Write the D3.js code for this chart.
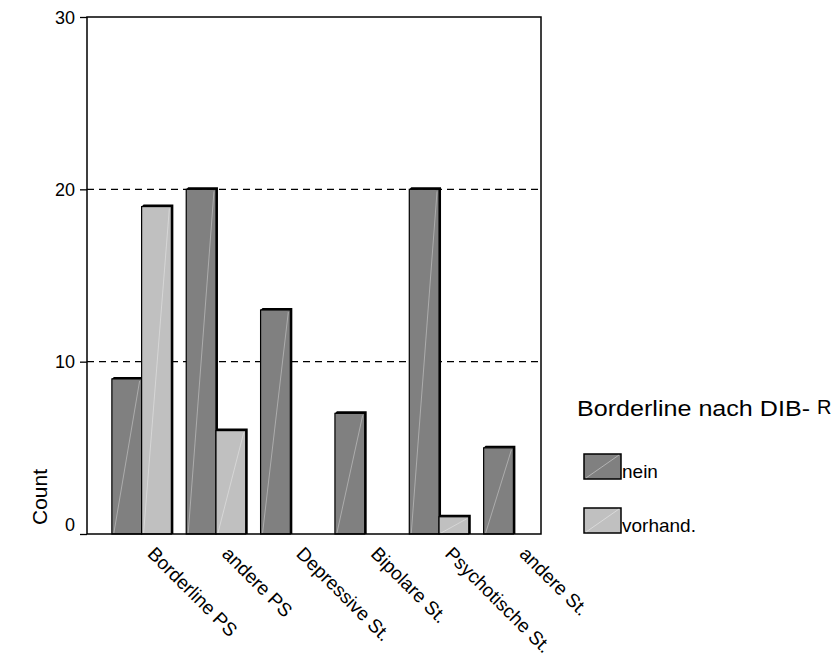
<!DOCTYPE html>
<html>
<head>
<meta charset="utf-8">
<script src="https://cdn.jsdelivr.net/npm/d3@7"></script>
<style>
  body { margin: 0; background: #fff; }
  text { font-family: "Liberation Sans", Arial, sans-serif; fill: #000; }
</style>
</head>
<body>
<div id="chart"></div>
<script>
// categories and series
const categories = ["Borderline PS", "andere PS", "Depressive St.", "Bipolare St.", "Psychotische St.", "andere St."];
const groups = ["nein", "vorhand."];
const neinValues = [9, 20, 13, 7, 20, 5];
const vorhandValues = [19, 6, 0, 0, 1, 0];
const yTicks = [0, 10, 20, 30];
const legendTitle = "Borderline nach DIB-";
const legendSuffix = "R";

const colors = { "nein": "#808080", "vorhand.": "#c0c0c0" };

const W = 838, H = 655;
const frame = { left: 87, right: 541, top: 17, bottom: 534 };

const svg = d3.select("#chart").append("svg")
    .attr("width", W)
    .attr("height", H);

// scales
const yScale = d3.scaleLinear().domain([0, 30]).range([frame.bottom, frame.top]);
const xScale = d3.scaleBand().domain(categories).range([97, 558]).padding(0.2);
const xSub = d3.scaleBand().domain(groups).range([0, xScale.bandwidth()]);

// gridlines (dashed)
svg.append("g")
  .selectAll("line")
  .data(yTicks.filter(d => d > 0 && d < 30))
  .join("line")
    .attr("x1", frame.left)
    .attr("x2", frame.right)
    .attr("y1", d => yScale(d))
    .attr("y2", d => yScale(d))
    .attr("stroke", "#000")
    .attr("stroke-width", 1.4)
    .attr("stroke-dasharray", "7,5");

// bars
const rows = [];
categories.forEach((c, i) => {
  rows.push({ cat: c, grp: "nein", value: neinValues[i] });
  rows.push({ cat: c, grp: "vorhand.", value: vorhandValues[i] });
});

const bars = svg.append("g")
  .selectAll("g")
  .data(rows.filter(d => d.value > 0))
  .join("g")
    .attr("transform", d => "translate(" + (xScale(d.cat) + xSub(d.grp)) + ",0)");

const bw = xSub.bandwidth();
const depth = 2;

bars.append("rect")
    .attr("x", 0)
    .attr("y", d => yScale(d.value))
    .attr("width", bw)
    .attr("height", d => frame.bottom - yScale(d.value))
    .attr("fill", d => colors[d.grp])
    .attr("stroke", "#000")
    .attr("stroke-width", 1.2);

// faint diagonal highlight
bars.append("line")
    .attr("x1", 2)
    .attr("y1", frame.bottom - 1)
    .attr("x2", bw - 2)
    .attr("y2", d => yScale(d.value) + 2)
    .attr("stroke", "#fff")
    .attr("stroke-opacity", 0.35)
    .attr("stroke-width", 1);

// 3d top and right edges
bars.append("path")
    .attr("d", d => {
      const y0 = yScale(d.value);
      return "M0," + y0 + " L" + depth + "," + (y0 - depth) + " L" + (bw + depth) + "," + (y0 - depth) +
             " L" + (bw + depth) + "," + (frame.bottom) + " L" + bw + "," + frame.bottom + " L" + bw + "," + y0 + " Z";
    })
    .attr("fill", "#000");

// frame
svg.append("rect")
    .attr("x", frame.left)
    .attr("y", frame.top)
    .attr("width", frame.right - frame.left)
    .attr("height", frame.bottom - frame.top)
    .attr("fill", "none")
    .attr("stroke", "#000")
    .attr("stroke-width", 1.5);

// y axis
const yAxis = svg.append("g")
    .attr("transform", "translate(" + frame.left + ",0)")
    .call(d3.axisLeft(yScale).tickValues(yTicks).tickSize(7).tickPadding(5).tickFormat(d3.format("d")));
yAxis.select(".domain").remove();
yAxis.selectAll(".tick line").attr("stroke", "#000").attr("stroke-width", 1.3);
yAxis.selectAll(".tick text")
    .attr("font-size", 18)
    .attr("font-family", "Liberation Sans, Arial, sans-serif")
    .attr("fill", "#000")
    .attr("dy", d => d === 0 ? "-0.2em" : "0.35em");

svg.append("text")
    .attr("transform", "translate(47,497) rotate(-90)")
    .attr("text-anchor", "middle")
    .attr("font-size", 21)
    .text("Count");

// x labels, rotated
svg.append("g")
  .selectAll("text")
  .data(categories)
  .join("text")
    .attr("transform", d => "translate(" + (xScale(d) + xScale.bandwidth() / 2 + 5) + ",555) rotate(45)")
    .attr("font-size", 19)
    .text(d => d);

// legend
const legend = svg.append("g");
legend.append("text")
    .attr("x", 577)
    .attr("y", 416)
    .attr("font-size", 22)
    .attr("textLength", 233)
    .attr("lengthAdjust", "spacingAndGlyphs")
    .text(legendTitle);
legend.append("text")
    .attr("x", 817)
    .attr("y", 414)
    .attr("font-size", 20)
    .text(legendSuffix);

legend.selectAll("g")
  .data(groups)
  .join("g")
    .attr("transform", (d, i) => "translate(584," + (454 + i * 54) + ")")
    .each(function(d) {
      const g = d3.select(this);
      g.append("rect")
        .attr("width", 37)
        .attr("height", 25)
        .attr("fill", colors[d])
        .attr("stroke", "#000")
        .attr("stroke-width", 1.5);
      g.append("line")
        .attr("x1", 2).attr("y1", 24)
        .attr("x2", 35).attr("y2", 1)
        .attr("stroke", "#fff")
        .attr("stroke-opacity", 0.4);
      g.append("text")
        .attr("x", 38)
        .attr("y", 24)
        .attr("font-size", 19)
        .text(d);
    });
</script>
</body>
</html>
